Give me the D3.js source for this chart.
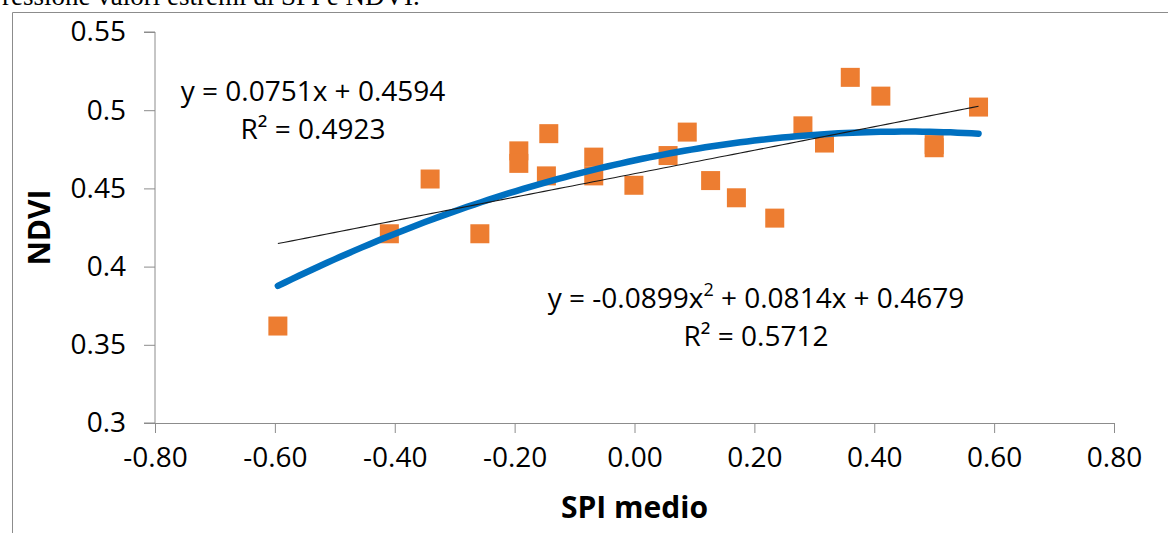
<!DOCTYPE html>
<html>
<head>
<meta charset="utf-8">
<script src="https://cdn.jsdelivr.net/npm/d3@7"></script>
<style>
    body { margin: 0; background: #fff; }
    svg { display: block; }
</style>
</head>
<body>
<div id="chart"></div>
<script>
// SPI medio (x) and NDVI (y)
const spi = [-0.595, -0.409, -0.341, -0.258, -0.193, -0.193, -0.143, -0.147, -0.068, -0.068,
    -0.001, 0.056, 0.088, 0.127, 0.170, 0.234, 0.281, 0.317, 0.360, 0.411, 0.500, 0.500, 0.574];
const ndvi = [0.362, 0.421, 0.456, 0.421, 0.474, 0.466, 0.485, 0.458, 0.470, 0.458,
    0.452, 0.471, 0.486, 0.455, 0.444, 0.431, 0.490, 0.479, 0.521, 0.509, 0.478, 0.476, 0.502];

// trendline coefficients as printed on the chart (highest power first)
const linearCoef = [0.0751, 0.4594];
const polyCoef = [-0.0899, 0.0814, 0.4679];

const xTicks = [-0.8, -0.6, -0.4, -0.2, 0, 0.2, 0.4, 0.6, 0.8];
const yTicks = [0.3, 0.35, 0.4, 0.45, 0.5, 0.55];
const yTickLabels = ["0.3", "0.35", "0.4", "0.45", "0.5", "0.55"];

const width = 1168, height = 533;
const margin = {left: 155, right: 54, top: 32, bottom: 110};
const font = "'Open Sans', sans-serif";

const svg = d3.select("#chart").append("svg")
    .attr("width", width)
    .attr("height", height);

// caption line cut off at the top of the page
svg.append("text")
    .attr("x", 2)
    .attr("y", 5)
    .style("font-family", "'Liberation Serif', 'Times New Roman', serif")
    .style("font-size", "27px")
    .text("ressione valori estremi di SPI e NDVI.");

// chart area border (only top and left are inside the frame)
svg.append("path")
    .attr("d", "M12.5," + height + "V12.5H" + width)
    .style("fill", "none")
    .style("stroke", "#8c8c8c")
    .style("stroke-width", 1);

const x = d3.scaleLinear().domain([-0.8, 0.8]).range([margin.left, width - margin.right]);
const y = d3.scaleLinear().domain([0.3, 0.55]).range([height - margin.bottom, margin.top]);

const xAxis = svg.append("g")
    .attr("transform", "translate(0," + y(0.3) + ")")
    .call(d3.axisBottom(x).tickValues(xTicks).tickSize(10).tickPadding(14)
        .tickFormat(function(d) { return d.toFixed(2); }));

const yAxis = svg.append("g")
    .attr("transform", "translate(" + x(-0.8) + ",0)")
    .call(d3.axisLeft(y).tickValues(yTicks).tickSize(11).tickPadding(18)
        .tickFormat(function(d, i) { return yTickLabels[i]; }));

[xAxis, yAxis].forEach(function(g) {
    g.select(".domain").attr("stroke", "#8c8c8c");
    g.selectAll(".tick line").attr("stroke", "#8c8c8c");
    g.selectAll(".tick text")
        .style("font-family", font)
        .style("font-size", "28px")
        .attr("fill", "#000");
});
yAxis.select(".domain").attr("d", "M-11," + y(0.55) + "H0V" + y(0.3) + "H-11");

// axis titles
svg.append("text")
    .attr("x", x(0))
    .attr("y", 518)
    .attr("text-anchor", "middle")
    .style("font-family", font)
    .style("font-size", "30px")
    .style("font-weight", "bold")
    .text("SPI medio");

svg.append("text")
    .attr("transform", "translate(50," + y(0.425) + ") rotate(-90)")
    .attr("text-anchor", "middle")
    .style("font-family", font)
    .style("font-size", "30px")
    .style("font-weight", "bold")
    .text("NDVI");

// points
const data = spi.map(function(v, i) { return {x: v, y: ndvi[i]}; });
const size = 19;

svg.selectAll(".dot")
    .data(data)
    .enter().append("rect")
    .attr("class", "dot")
    .attr("x", function(d) { return x(d.x) - size / 2; })
    .attr("y", function(d) { return y(d.y) - size / 2; })
    .attr("width", size)
    .attr("height", size)
    .style("fill", "#ED7D31");

// trendlines across the range of the data
function polyval(coef, v) {
    return coef.reduce(function(acc, c) { return acc * v + c; }, 0);
}
const xs = d3.range(0, 101).map(function(i) {
    const lo = d3.min(spi), hi = d3.max(spi);
    return lo + (hi - lo) * i / 100;
});
const line = d3.line()
    .x(function(v) { return x(v); });

svg.append("path")
    .attr("class", "poly")
    .attr("d", line.y(function(v) { return y(polyval(polyCoef, v)); })(xs))
    .style("fill", "none")
    .style("stroke", "#0070C0")
    .style("stroke-width", 6.5)
    .style("stroke-linecap", "round");

svg.append("path")
    .attr("class", "linear")
    .attr("d", line.y(function(v) { return y(polyval(linearCoef, v)); })(xs))
    .style("fill", "none")
    .style("stroke", "#1a1a1a")
    .style("stroke-width", 1.1);

// equation labels
function label(cx, cy, parts, r2) {
    const t = svg.append("text")
        .attr("x", cx)
        .attr("y", cy)
        .attr("text-anchor", "middle")
        .style("font-family", font)
        .style("font-size", "28px")
        .attr("fill", "#000");
    parts.forEach(function(p) {
        const s = t.append("tspan").text(p.text);
        if (p.sup) s.attr("baseline-shift", "super").style("font-size", "18px");
    });
    svg.append("text")
        .attr("x", cx)
        .attr("y", cy + 38)
        .attr("text-anchor", "middle")
        .style("font-family", font)
        .style("font-size", "28px")
        .attr("fill", "#000")
        .text("R² = " + r2);
}

label(313, 101, [{text: "y = " + linearCoef[0] + "x + " + linearCoef[1]}], "0.4923");
label(756, 308, [
    {text: "y = " + polyCoef[0] + "x"},
    {text: "2", sup: true},
    {text: " + " + polyCoef[1] + "x + " + polyCoef[2]}
], "0.5712");
</script>
</body>
</html>
